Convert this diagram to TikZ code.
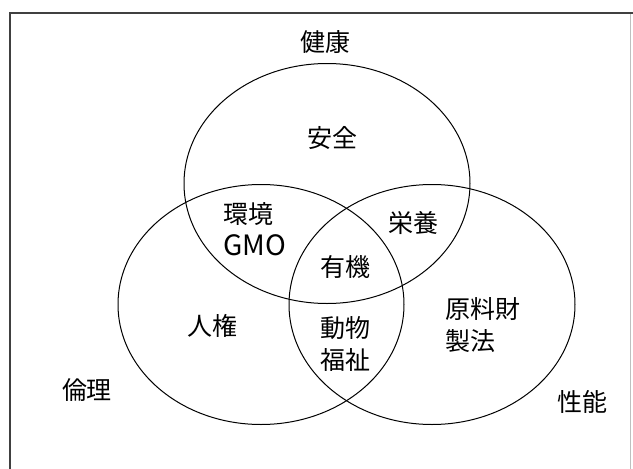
\documentclass[tikz,border=0pt]{standalone}
\usepackage{fontspec}
\setmainfont{Noto Sans CJK JP}
\usetikzlibrary{shapes.geometric}
\tikzset{
  venn/.style={ellipse, draw=black, line width=1pt, minimum width=286pt, minimum height=240pt, inner sep=0pt, outer sep=0pt},
  lbl/.style={font=\fontsize{25}{32}\selectfont, inner sep=0pt, text=black},
  frameline/.style={line width=1.5pt, draw=black!75},
}
\begin{document}
\begin{tikzpicture}[x=1pt,y=-1pt]
\useasboundingbox (0,0) rectangle (633,469);
% frame
\coordinate (fbl) at (10,475);
\coordinate (ftl) at (10,13);
\coordinate (ftr) at (633,13);
\coordinate (frt) at (630,14);
\coordinate (frb) at (630,475);
\draw[frameline] (fbl) -- (ftl) -- (ftr);
\draw[line width=1pt, draw=black!25] (frt) -- (frb);
% ellipses
\node[venn] (T) at (327,183.5) {};
\node[venn] (L) at (261,304.5) {};
\node[venn] (R) at (432,304.5) {};
% labels
\node[lbl] (kenkou) at (325,42) {健康};
\node[lbl] (anzen) at (332,138) {安全};
\node[lbl, align=left, anchor=west] (kankyou) at (223,229) {環境\\{\fontsize{28}{32}\selectfont GMO}};
\node[lbl] (eiyou) at (413,223) {栄養};
\node[lbl] (yuuki) at (345,267) {有機};
\node[lbl] (jinken) at (212,326) {人権};
\node[lbl, align=center] (doubutsu) at (345,344) {動物\\福祉};
\node[lbl, align=left, anchor=west] (genryou) at (445,325) {原料財\\製法};
\node[lbl] (rinri) at (87,390) {倫理};
\node[lbl] (seinou) at (582,402) {性能};
\end{tikzpicture}
\end{document}
